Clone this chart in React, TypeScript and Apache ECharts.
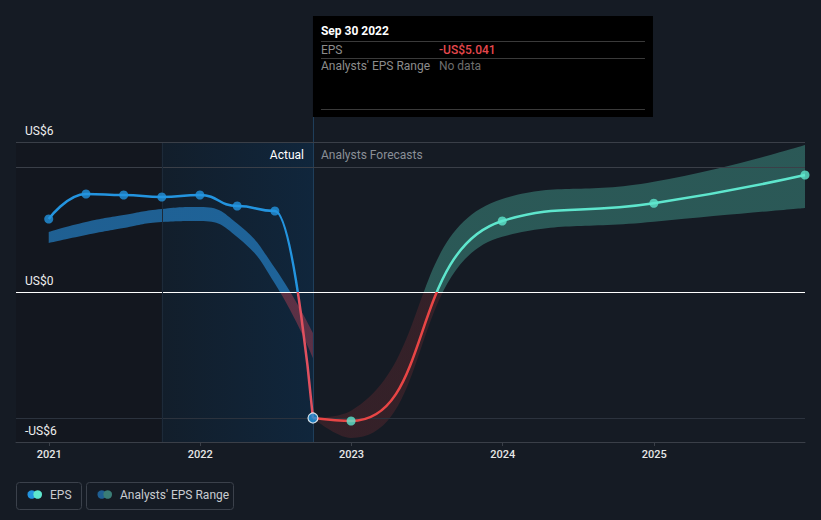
import React, { useEffect, useRef } from "react";
import * as echarts from "echarts";

// ---- data ----
const actualDates = ["2020-12-31", "2021-03-31", "2021-06-30", "2021-09-30", "2021-12-31", "2022-03-31", "2022-06-30", "2022-09-30"];
const actualEps = [2.92, 3.92, 3.88, 3.8, 3.88, 3.44, 3.24, -5.041];
const pastRangeLow = [1.96, 2.28, 2.56, 2.8, 2.84, 2.2, 0.34, -2.64];
const pastRangeHigh = [2.4, 2.8, 3.08, 3.32, 3.4, 2.74, 0.96, -1.64];

const forecastDates = ["2022-09-30", "2022-12-31", "2023-12-31", "2024-12-31", "2025-12-31"];
const forecastEps = [-5.041, -5.16, 2.84, 3.55, 4.68];
const forecastLow = [-5.041, -5.84, 2.21, 2.81, 3.36];
const forecastHigh = [-5.041, -4.75, 3.72, 4.41, 5.88];

const yTicks = [-6, 0, 6];
const xMin = "2020-10-13";
const xMax = "2025-12-31";
const actualStart = "2021-09-30";
const actualEnd = "2022-09-30";
const hoverLabel = "Sep 30 2022";
const hoverValue = "-US$5.041";

// ---- styles ----
const BG = "#151b24";
const GRID = "#3a3f48";
const BLUE = "#2394df";
const TEAL = "#5ee6cd";
const RED = "#e84545";
const RED_A = "#e0505f";
const FONT = "Roboto, 'Noto Sans', sans-serif";
const DAY = 24 * 3600 * 1000;

const ts = (s: string) => {
  const [y, m, d] = s.split("-").map(Number);
  return new Date(y, m - 1, d).getTime();
};
const pair = (d: string[], v: number[]) => d.map((x, i) => [x, v[i]]);
const diff = (d: string[], hi: number[], lo: number[]) => d.map((x, i) => [x, +(hi[i] - lo[i]).toFixed(3)]);
const fmtY = (v: number) => (v === 0 ? "US$0" : v > 0 ? `US$${v}` : `-US$${-v}`);

const signMap = (seriesIndex: number, neg: string, pos: string) => ({
  type: "piecewise",
  show: false,
  seriesIndex,
  dimension: 1,
  pieces: [
    { gt: -1000, lte: 0, color: neg },
    { gt: 0, lte: 1000, color: pos },
  ],
});

export default function App() {
  const ref = useRef<HTMLDivElement>(null);

  useEffect(() => {
    const el = ref.current!;
    const chart = echarts.init(el, null, { renderer: "svg" });

    const hidden = { opacity: 0, width: 0 };
    const option: any = {
      animation: false,
      backgroundColor: BG,
      textStyle: { fontFamily: FONT },
      grid: { left: 16, right: 16, top: 142, bottom: 78, containLabel: false },
      xAxis: {
        type: "time",
        z: 10,
        min: xMin,
        max: xMax,
        minInterval: 365 * DAY,
        maxInterval: 366 * DAY,
        axisLine: { show: true, onZero: false, lineStyle: { color: GRID, width: 1 } },
        axisTick: { show: true, length: 4, lineStyle: { color: GRID } },
        minorTick: { show: false },
        splitLine: { show: false },
        axisLabel: {
          color: "#e6e6e6",
          fontSize: 11,
          fontWeight: 500,
          margin: 7,
          fontFamily: FONT,
          formatter: (v: number) => String(new Date(v).getFullYear()),
        },
      },
      yAxis: {
        type: "value",
        z: 10,
        min: yTicks[0],
        max: yTicks[yTicks.length - 1],
        interval: 6,
        axisLine: { show: false },
        axisTick: { show: false },
        axisLabel: {
          inside: true,
          margin: 9,
          color: "#eeeeee",
          fontSize: 12,
          fontFamily: FONT,
          verticalAlign: "bottom",
          padding: [0, 0, 5, 0],
          formatter: fmtY,
        },
        splitLine: { show: true, lineStyle: { color: [GRID, "transparent", GRID], width: 1 } },
      },
      visualMap: [
        signMap(1, "rgba(230,70,90,0.35)", "rgba(35,120,185,0.75)"),
        signMap(3, "rgba(230,65,65,0.15)", "rgba(94,232,205,0.3)"),
        signMap(4, RED_A, BLUE),
        signMap(5, RED, TEAL),
      ],
      series: [
        {
          name: "pastLow",
          type: "line",
          stack: "past",
          stackStrategy: "all",
          smooth: true,
          showSymbol: false,
          silent: true,
          z: 2,
          lineStyle: hidden,
          data: pair(actualDates, pastRangeLow),
          markLine: {
            silent: true,
            symbol: ["none", "none"],
            label: { show: false },
            z: 5,
            data: [
              { yAxis: 0, lineStyle: { color: "#ffffff", width: 1, type: "solid" } },
              { yAxis: 5, lineStyle: { color: GRID, width: 1, type: "solid" } },
              { yAxis: actualEps[actualEps.length - 1], lineStyle: { color: "#2c333e", width: 1, type: "solid" } },
              { xAxis: actualStart, lineStyle: { color: "#1d2a39", width: 1, type: "solid" } },
            ],
          },
        },
        {
          name: "pastRange",
          type: "line",
          stack: "past",
          stackStrategy: "all",
          smooth: true,
          showSymbol: false,
          silent: true,
          z: 2,
          lineStyle: hidden,
          areaStyle: { opacity: 1 },
          data: diff(actualDates, pastRangeHigh, pastRangeLow),
        },
        {
          name: "fcLow",
          type: "line",
          stack: "fc",
          stackStrategy: "all",
          smooth: true,
          showSymbol: false,
          silent: true,
          z: 2,
          lineStyle: hidden,
          data: pair(forecastDates, forecastLow),
        },
        {
          name: "Analysts' EPS Range",
          type: "line",
          stack: "fc",
          stackStrategy: "all",
          smooth: true,
          showSymbol: false,
          silent: true,
          z: 2,
          lineStyle: hidden,
          areaStyle: { opacity: 1 },
          data: diff(forecastDates, forecastHigh, forecastLow),
        },
        {
          name: "EPS",
          type: "line",
          smooth: true,
          smoothMonotone: "x",
          showSymbol: false,
          silent: true,
          z: 6,
          lineStyle: { width: 2.5 },
          data: pair(actualDates, actualEps),
          markArea: {
            silent: true,
            data: [
              [{ xAxis: xMin, itemStyle: { color: "#13171f" } }, { xAxis: actualStart }],
              [
                {
                  xAxis: actualStart,
                  itemStyle: {
                    color: {
                      type: "linear",
                      x: 0, y: 0, x2: 1, y2: 0,
                      colorStops: [
                        { offset: 0, color: "#121e2b" },
                        { offset: 1, color: "#10263c" },
                      ],
                    },
                  },
                },
                { xAxis: actualEnd },
              ],
            ],
          },
        },
        {
          name: "EPS forecast",
          type: "line",
          smooth: true,
          showSymbol: false,
          silent: true,
          z: 6,
          lineStyle: { width: 2.5 },
          data: pair(forecastDates, forecastEps),
        },
        {
          name: "EPS points",
          type: "scatter",
          z: 8,
          silent: true,
          symbolSize: 9,
          itemStyle: { color: BLUE },
          data: actualDates.map((d, i) =>
            i === actualDates.length - 1
              ? { value: [d, actualEps[i]], symbolSize: 10, itemStyle: { color: BLUE, borderColor: "#ffffff", borderWidth: 1.2 } }
              : { value: [d, actualEps[i]] }
          ),
        },
        {
          name: "Forecast points",
          type: "scatter",
          z: 8,
          silent: true,
          symbolSize: 9,
          itemStyle: { color: TEAL },
          data: pair(forecastDates, forecastEps).slice(1),
        },
      ],
    };

    chart.setOption(option);

    const xe = chart.convertToPixel({ xAxisIndex: 0 }, ts(actualEnd)) as number;
    const yBottom = chart.convertToPixel({ yAxisIndex: 0 }, yTicks[0]) as number;
    const yTop = chart.convertToPixel({ yAxisIndex: 0 }, yTicks[yTicks.length - 1]) as number;
    const boxTop = 16;
    const boxH = 101;
    const txt = (text: string, x: number, y: number, fill: string, extra: any = {}) => ({
      type: "text",
      x,
      y,
      z: 30,
      silent: true,
      style: {
        text,
        fill,
        fontSize: 12,
        fontFamily: FONT,
        align: extra.align || "left",
        textAlign: extra.align || "left",
        verticalAlign: "middle",
        textVerticalAlign: "middle",
        fontWeight: extra.fontWeight || "normal",
      },
    });
    const hline = (x1: number, x2: number, y: number, stroke: string) => ({
      type: "line",
      z: 30,
      silent: true,
      shape: { x1, y1: y, x2, y2: y },
      style: { stroke, lineWidth: 1 },
    });

    chart.setOption({
      graphic: [
        {
          type: "line",
          z: 3,
          silent: true,
          shape: { x1: xe + 0.5, y1: boxTop + boxH, x2: xe + 0.5, y2: yBottom },
          style: { stroke: "#21405e", lineWidth: 1 },
        },
        txt("Actual", xe - 9, yTop + 12.5, "#ffffff", { align: "right" }),
        txt("Analysts Forecasts", xe + 8, yTop + 12.5, "#8a8f97"),
        {
          type: "rect",
          z: 29,
          silent: true,
          shape: { x: xe, y: boxTop, width: 340, height: boxH },
          style: { fill: "#000000" },
        },
        txt(hoverLabel, xe + 8, 31, "#ffffff", { fontWeight: "bold" }),
        hline(xe + 8, xe + 332, 41.5, "#3a3a3a"),
        txt("EPS", xe + 8, 49.5, "#8c8c8c"),
        txt(hoverValue, xe + 126, 49.5, "#e5484d", { fontWeight: 500 }),
        hline(xe + 8, xe + 332, 58.5, "#3a3a3a"),
        txt("Analysts' EPS Range", xe + 8, 66, "#8c8c8c"),
        txt("No data", xe + 126, 66, "#6e6e6e"),
        hline(xe + 8, xe + 332, 109.5, "#3a3a3a"),
        // legend
        {
          type: "rect",
          z: 30,
          silent: true,
          shape: { x: 16.5, y: 482.5, width: 65, height: 27, r: 3 },
          style: { fill: "none", stroke: "#3b414b", lineWidth: 1 },
        },
        { type: "circle", z: 31, silent: true, shape: { cx: 31.8, cy: 494.5, r: 4.3 }, style: { fill: BLUE } },
        { type: "circle", z: 32, silent: true, shape: { cx: 37.7, cy: 494.5, r: 4.3 }, style: { fill: TEAL } },
        txt("EPS", 50, 495, "#c9ccd1"),
        {
          type: "rect",
          z: 30,
          silent: true,
          shape: { x: 86.5, y: 482.5, width: 147, height: 27, r: 3 },
          style: { fill: "none", stroke: "#3b414b", lineWidth: 1 },
        },
        { type: "circle", z: 31, silent: true, shape: { cx: 101.8, cy: 494.5, r: 4.3 }, style: { fill: "#1f5f93" } },
        { type: "circle", z: 32, silent: true, shape: { cx: 107.7, cy: 494.5, r: 4.3 }, style: { fill: "#3a7d76" } },
        txt("Analysts' EPS Range", 120, 495, "#c9ccd1"),
      ],
    });

    return () => chart.dispose();
  }, []);

  return (
    <div
      ref={ref}
      style={{ position: "fixed", left: 0, top: 0, width: 821, height: 520, background: BG }}
    />
  );
}
